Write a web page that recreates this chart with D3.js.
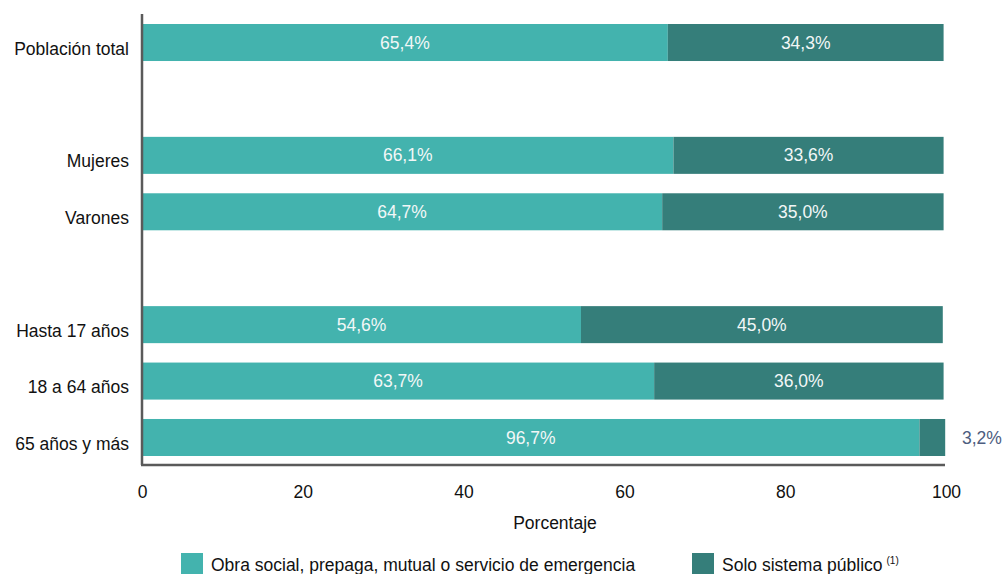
<!DOCTYPE html>
<html>
<head>
<meta charset="utf-8">
<script src="https://cdn.jsdelivr.net/npm/d3@7"></script>
<style>
  body { margin: 0; background: #fff; }
  svg text { font-family: "Liberation Sans", Arial, sans-serif; }
</style>
</head>
<body>
<svg id="chart" width="1003" height="574"></svg>
<script>
// rows (blank rows are gaps between groups)
const categories = ["Población total", "", "Mujeres", "Varones", " ", "Hasta 17 años", "18 a 64 años", "65 años y más"];
const obraSocial = [65.4, null, 66.1, 64.7, null, 54.6, 63.7, 96.7];
const soloPublico = [34.3, null, 33.6, 35.0, null, 45.0, 36.0, 3.2];
const xTicks = [0, 20, 40, 60, 80, 100];
const seriesNames = ["Obra social, prepaga, mutual o servicio de emergencia", "Solo sistema público"];
const colors = ["#43b3ae", "#357e7a"];

const svg = d3.select("#chart");
const fontSize = 17.5;
const left = 142;

const x = d3.scaleLinear().domain([0, 100]).range([left, 946]);
const y = d3.scaleBand()
    .domain(categories)
    .range([24, 456])
    .paddingInner(0.344)
    .paddingOuter(0);

const fmt = v => d3.format(".1f")(v).replace(".", ",") + "%";

const rows = categories.map((c, i) => ({ cat: c, a: obraSocial[i], b: soloPublico[i] }))
    .filter(d => d.a !== null);

// bars
const g = svg.append("g");
g.selectAll("rect.a").data(rows).enter().append("rect")
    .attr("x", x(0))
    .attr("y", d => y(d.cat))
    .attr("width", d => x(d.a) - x(0))
    .attr("height", y.bandwidth())
    .attr("fill", colors[0]);

g.selectAll("rect.b").data(rows).enter().append("rect")
    .attr("x", d => x(d.a))
    .attr("y", d => y(d.cat))
    .attr("width", d => x(d.a + d.b) - x(d.a))
    .attr("height", y.bandwidth())
    .attr("fill", colors[1]);

// labels
g.selectAll("text.a").data(rows).enter().append("text")
    .attr("x", d => x(d.a / 2))
    .attr("y", d => y(d.cat) + y.bandwidth() / 2)
    .attr("dy", "0.35em")
    .attr("text-anchor", "middle")
    .attr("fill", "#f2f7f7")
    .attr("font-size", fontSize)
    .text(d => fmt(d.a));

g.selectAll("text.b").data(rows).enter().append("text")
    .attr("x", d => d.b < 10 ? x(100) + 16 : x(d.a + d.b / 2))
    .attr("y", d => y(d.cat) + y.bandwidth() / 2)
    .attr("dy", "0.35em")
    .attr("text-anchor", d => d.b < 10 ? "start" : "middle")
    .attr("fill", d => d.b < 10 ? "#4d5d80" : "#f2f7f7")
    .attr("font-size", fontSize)
    .text(d => fmt(d.b));

// y axis labels (sit a little below the bar centre, as in the original)
svg.append("g").selectAll("text").data(rows).enter().append("text")
    .attr("x", left - 13)
    .attr("y", d => y(d.cat) + y.bandwidth() / 2 + 6)
    .attr("dy", "0.35em")
    .attr("text-anchor", "end")
    .attr("fill", "#111")
    .attr("font-size", fontSize)
    .text(d => d.cat);

// axis lines
svg.append("line")
    .attr("x1", left).attr("x2", left)
    .attr("y1", 14).attr("y2", 465)
    .attr("stroke", "#5a5a5a").attr("stroke-width", 2.5);
svg.append("line")
    .attr("x1", left - 1).attr("x2", x(100) - 1)
    .attr("y1", 465).attr("y2", 465)
    .attr("stroke", "#5a5a5a").attr("stroke-width", 2.5);

// x ticks
const xAxis = svg.append("g")
    .attr("transform", "translate(0,465)")
    .call(d3.axisBottom(x).tickValues(xTicks).tickSize(0).tickPadding(21));
xAxis.select(".domain").remove();
xAxis.selectAll("text")
    .attr("font-size", fontSize)
    .attr("fill", "#111")
    .style("font-family", "Liberation Sans, Arial, sans-serif");

svg.append("text")
    .attr("x", 555)
    .attr("y", 523)
    .attr("dy", "0.35em")
    .attr("text-anchor", "middle")
    .attr("font-size", fontSize)
    .attr("fill", "#111")
    .text("Porcentaje");

// legend
const legend = svg.append("g");
const legendX = [181, 692];
seriesNames.forEach((name, i) => {
    legend.append("rect")
        .attr("x", legendX[i]).attr("y", 553)
        .attr("width", 22).attr("height", 22)
        .attr("fill", colors[i]);
    const t = legend.append("text")
        .attr("x", legendX[i] + 30)
        .attr("y", 565)
        .attr("dy", "0.35em")
        .attr("font-size", fontSize)
        .attr("fill", "#111")
        .text(name);
    if (i === 1) {
        t.append("tspan")
            .attr("font-size", 10)
            .attr("dx", 4)
            .attr("dy", "-0.7em")
            .text("(1)");
    }
});
</script>
</body>
</html>
